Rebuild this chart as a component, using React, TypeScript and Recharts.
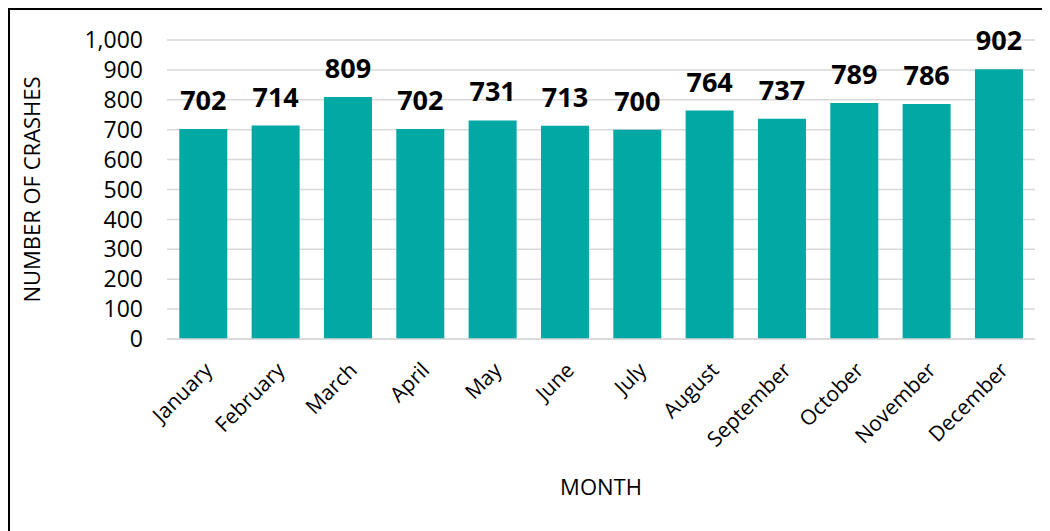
import React from "react";
import { BarChart, Bar, XAxis, YAxis, CartesianGrid, LabelList, Label } from "recharts";

const months = ["January","February","March","April","May","June","July","August","September","October","November","December"];
const crashes = [702, 714, 809, 702, 731, 713, 700, 764, 737, 789, 786, 902];
const yTicks = [0, 100, 200, 300, 400, 500, 600, 700, 800, 900, 1000];

const data = months.map((m, i) => ({ month: m, crashes: crashes[i] }));
const FONT = "'Open Sans', 'Noto Sans', sans-serif";

export default function App() {
  return (
    <div style={{ width: 1040, height: 530, border: "2px solid #000", boxSizing: "content-box", position: "relative", fontFamily: FONT }}>
      <BarChart width={1040} height={520} data={data} margin={{ top: 30, right: 15, bottom: 71, left: 60 }} barCategoryGap="17%">
        <CartesianGrid vertical={false} stroke="#D9D9D9" strokeWidth={1.5} />
        <XAxis
          dataKey="month"
          height={120}
          interval={0}
          tickLine={false}
          axisLine={{ stroke: "#D9D9D9", strokeWidth: 1.5 }}
          tickSize={0}
          tickMargin={22}
          angle={-45}
          textAnchor="end"
          tick={{ fill: "#000", fontSize: 21, fontFamily: FONT }}
        >
          <Label value="MONTH" position="insideBottom" offset={-36} style={{ fill: "#000", fontSize: 22, fontFamily: FONT }} />
        </XAxis>
        <YAxis
          width={97}
          domain={[0, 1000]}
          ticks={yTicks}
          interval={0}
          tickLine={false}
          axisLine={false}
          tickSize={0}
          tickMargin={24}
          tickFormatter={(v: number) => v.toLocaleString("en-US")}
          tick={{ fill: "#000", fontSize: 23, fontFamily: FONT }}
        >
          <Label value="NUMBER OF CRASHES" angle={-90} position="insideLeft" offset={-38} style={{ fill: "#000", fontSize: 22, fontFamily: FONT, textAnchor: "middle" }} />
        </YAxis>
        <Bar dataKey="crashes" fill="#02A8A3" isAnimationActive={false}>
          <LabelList dataKey="crashes" position="top" offset={19} style={{ fill: "#000", fontSize: 27, fontWeight: 700, fontFamily: FONT }} />
        </Bar>
      </BarChart>
    </div>
  );
}
